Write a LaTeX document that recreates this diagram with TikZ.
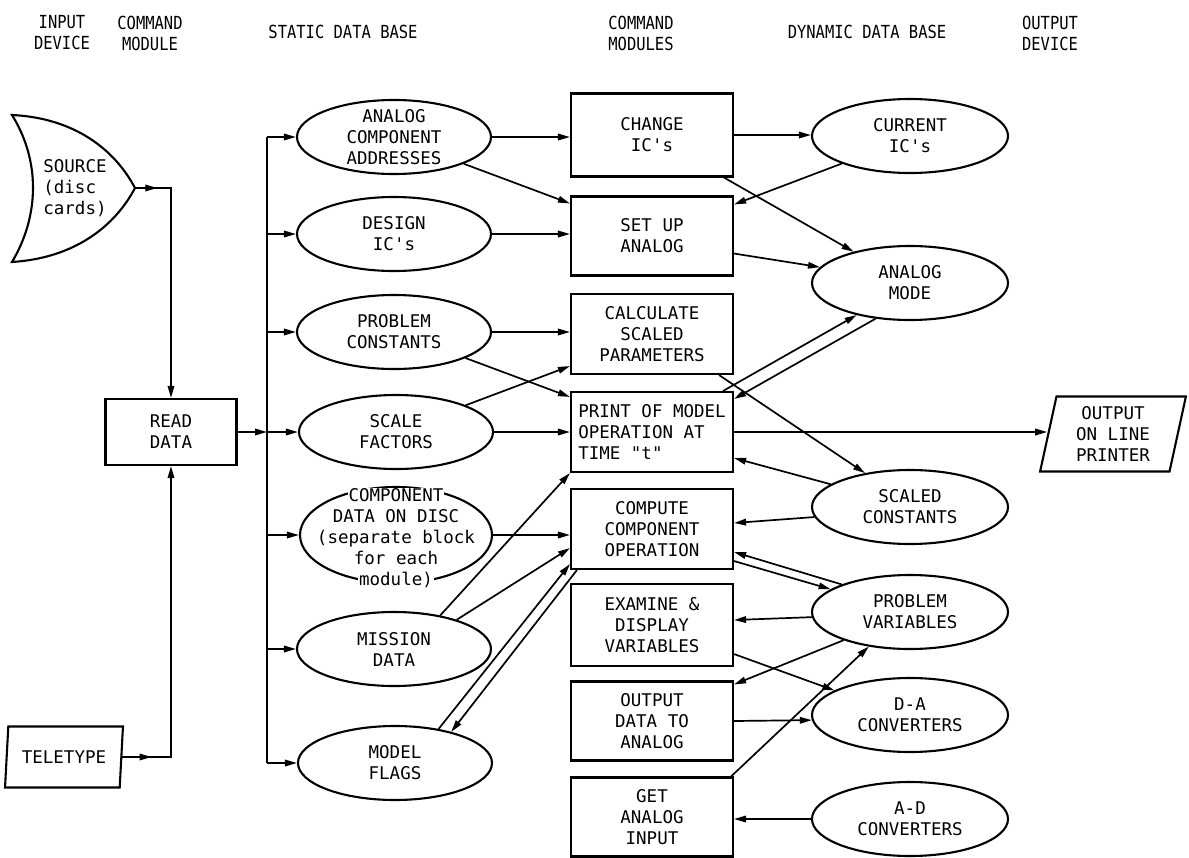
\documentclass[tikz,border=0pt]{standalone}
\usepackage{fontspec}
\setmonofont{DejaVu Sans Mono}
\newfontfamily\hdrfont{DejaVu Sans Mono}[FakeStretch=0.86]
\usetikzlibrary{shapes.geometric,arrows.meta,calc}
\setlength{\fboxsep}{0.8pt}
\begin{document}
\begin{tikzpicture}[x=1pt,y=-1pt,
  every node/.style={font=\ttfamily\fontsize{17.5}{21}\selectfont, align=center, inner sep=0pt},
  hdr/.style={font=\hdrfont\fontsize{18}{21}\selectfont},
  box/.style={draw, line width=2.1pt, minimum width=162pt, minimum height=80pt},
  ell/.style={draw, ellipse, line width=2.1pt, minimum width=194pt, minimum height=74pt},
  dev/.style={draw, trapezium, trapezium left angle=79, trapezium right angle=101, trapezium stretches=true, line width=2.1pt},
  conn/.style={line width=1.7pt},
  arr/.style={conn, -{Triangle[length=12pt,width=6.5pt]}}
]
\path[use as bounding box, fill=white] (0,0) rectangle (1189,857);

% headers
\node[hdr] (hin) at (62,33) {INPUT\\DEVICE};
\node[hdr] (hcm) at (150,33) {COMMAND\\MODULE};
\node[hdr] (hsd) at (343,32) {STATIC DATA BASE};
\node[hdr] (hcms) at (641,33) {COMMAND\\MODULES};
\node[hdr] (hdd) at (867,32) {DYNAMIC DATA BASE};
\node[hdr] (hod) at (1050,33) {OUTPUT\\DEVICE};

% input devices
\draw[line width=2.1pt] (12,115) .. controls (75,118) and (115,150) .. (135,188)
  .. controls (115,226) and (75,258) .. (12,262)
  .. controls (40,215) and (40,160) .. cycle;
\coordinate (srctip) at (135,188);
\node[align=left] (srct) at (75,188) {SOURCE\\(disc\\cards)};
\node[dev, minimum width=118pt, minimum height=61pt] (tele) at (64,757) {TELETYPE};

% read data
\node[box, minimum width=131pt, minimum height=66pt] (read) at (171,432) {READ\\DATA};

% static data base
\node[ell] (acad) at (394,137) {};
\node (acadt) at (acad) {ANALOG\\COMPONENT\\ADDRESSES};
\node[ell] (dics) at (394,234) {};
\node (dicst) at (dics) {DESIGN\\IC's};
\node[ell] (pcon) at (394,332) {};
\node (pcont) at (pcon) {PROBLEM\\CONSTANTS};
\node[ell] (sfac) at (396,432) {};
\node (sfact) at (sfac) {SCALE\\FACTORS};
\node[ell, minimum width=192pt, minimum height=96pt] (cdat) at (396,535) {};
\node (cdatt) at (396,538) {\colorbox{white}{COMPONENT}\\DATA ON DISC\\(separate block\\for each\\\colorbox{white}{module)}};
\node[ell] (mdat) at (394,649) {};
\node (mdatt) at (mdat) {MISSION\\DATA};
\node[ell] (mfla) at (395,763) {};
\node (mflat) at (mfla) {MODEL\\FLAGS};

% command modules
\node[box, minimum height=83pt] (chg) at (652,135) {CHANGE\\IC's};
\node[box, minimum height=79pt] (setup) at (652,236) {SET UP\\ANALOG};
\node[box] (calc) at (652,334) {CALCULATE\\SCALED\\PARAMETERS};
\node[box, align=left] (print) at (652,432) {PRINT OF MODEL\\OPERATION AT\\TIME "t"};
\node[box] (comp) at (652,529) {COMPUTE\\COMPONENT\\OPERATION};
\node[box, minimum height=82pt] (exam) at (652,625) {EXAMINE \&\\DISPLAY\\VARIABLES};
\node[box, minimum height=79pt] (outd) at (652,721) {OUTPUT\\DATA TO\\ANALOG};
\node[box, minimum height=79pt] (geta) at (652,817) {GET\\ANALOG\\INPUT};

% dynamic data base
\node[ell, minimum width=196pt] (cur) at (910,136) {};
\node (curt) at (cur) {CURRENT\\IC's};
\node[ell, minimum width=196pt] (amode) at (910,283) {};
\node (amodet) at (amode) {ANALOG\\MODE};
\node[ell, minimum width=196pt] (scon) at (910,507) {};
\node (scont) at (scon) {SCALED\\CONSTANTS};
\node[ell, minimum width=196pt] (pvar) at (910,612) {};
\node (pvart) at (pvar) {PROBLEM\\VARIABLES};
\node[ell, minimum width=196pt] (da) at (910,715) {};
\node (dat) at (da) {D-A\\CONVERTERS};
\node[ell, minimum width=196pt] (ad) at (910,819) {};
\node (adt) at (ad) {A-D\\CONVERTERS};

% output device
\node[dev, minimum width=146pt, minimum height=75pt] (out) at (1113,434) {OUTPUT\\ON LINE\\PRINTER};

% input connectors
\coordinate (j1) at (read.north |- srctip);
\draw[arr] (srctip) -- (j1) -- (read.north);
\draw[arr] (srctip) -- ($(srctip)!0.62!(j1)$);
\coordinate (j2) at (read.south |- tele.east);
\draw[arr] (tele.east) -- (j2) -- (read.south);
\draw[arr] (tele.east) -- ($(tele.east)!0.6!(j2)$);

% bus
\coordinate (bt) at (267,137);
\coordinate (bb) at (267,763);
\draw[conn] (bt) -- (bb);
\draw[arr] (read.east) -- (read.east -| bt);
\foreach \n in {acad,dics,pcon,sfac,cdat,mdat,mfla}
  \draw[arr] (bt |- \n.west) -- (\n.west);

% static -> modules
\draw[arr] (acad.east) -- (acad.east -| chg.west);
\draw[arr] (acad.-21.5) -- ([yshift=-8pt]setup.north west);
\draw[arr] (dics.east) -- (dics.east -| setup.west);
\draw[arr] (pcon.east) -- (pcon.east -| calc.west);
\draw[arr] (pcon.-20.6) -- ([yshift=-6pt]print.north west);
\draw[arr] (sfac.21.4) -- ([yshift=9pt]calc.south west);
\draw[arr] (sfac.east) -- (sfac.east -| print.west);
\draw[arr] (cdat.east) -- (cdat.east -| comp.west);
\draw[arr] (mdat.36.5) -- (print.south west);
\draw[arr] (mdat.25) -- ([yshift=22pt]comp.south west);
\draw[arr] (mfla.38) -- ([yshift=6pt]comp.south west);
\draw[arr] ([xshift=7pt]comp.south west) -- (mfla.29.6);

% modules <-> dynamic
\draw[arr] (chg.east) -- (chg.east -| cur.west);
\draw[arr] ([xshift=-10pt]chg.south east) -- (amode.151.5);
\draw[arr] (cur.202.5) -- ([yshift=-9pt]setup.north east);
\draw[arr] ([yshift=23pt]setup.south east) -- (amode.170);
\draw[arr] ([xshift=-11pt]print.north east) -- (amode.211);
\draw[arr] (amode.226.6) -- ([yshift=-8pt]print.north east);
\draw[arr] ([xshift=-15pt]calc.south east) -- (scon.143.3);
\draw[arr] (scon.164) -- ([yshift=15pt]print.south east);
\draw[arr] (scon.186) -- ([yshift=6pt]comp.east);
\draw[arr] (pvar.158) -- ([yshift=18pt]comp.south east);
\draw[arr] ([yshift=9pt]comp.south east) -- (pvar.164.5);
\draw[arr] (pvar.183) -- ([yshift=5pt]exam.east);
\draw[arr] ([yshift=13pt]exam.south east) -- (da.162);
\draw[arr] (pvar.203) -- ([yshift=-4pt]outd.north east);
\draw[arr] (outd.east) -- (da.183);
\draw[arr] ([xshift=-3pt]geta.north east) -- (pvar.220);
\draw[arr] (ad.west) -- (ad.west -| geta.east);
\draw[arr] (print.east) -- (print.east -| out.west);
\end{tikzpicture}
\end{document}
